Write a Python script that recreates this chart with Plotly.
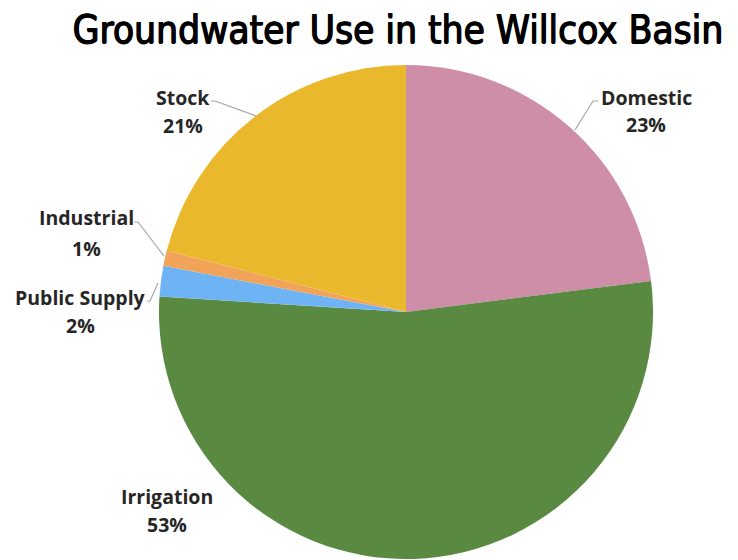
import plotly.graph_objects as go

categories = ["Domestic", "Irrigation", "Public Supply", "Industrial", "Stock"]
values = [23, 53, 2, 1, 21]
colors = ["#CE8EA8", "#5A8A42", "#6EB4F4", "#F2A35A", "#E9B82C"]

W, H = 738, 560

def px(x):
    return x / W

def py(y):
    return 1 - y / H

fig = go.Figure(go.Pie(
    labels=categories,
    values=values,
    sort=False,
    direction="clockwise",
    rotation=0,
    marker=dict(colors=colors, line=dict(width=0)),
    textinfo="none",
    hoverinfo="label+percent",
    showlegend=False,
    domain=dict(x=[px(159), px(653)], y=[py(559), py(65)]),
))

# label positions: (x center, y of name line, y of percent line) in pixels
label_pos = {
    "Domestic": (646, 97, 125),
    "Irrigation": (167, 496, 524),
    "Public Supply": (80, 297, 325),
    "Industrial": (86, 218, 248),
    "Stock": (183, 97, 126),
}
leaders = {
    "Domestic": [(598, 101), (593, 101), (575, 130)],
    "Stock": [(211, 101), (215, 101), (256, 116)],
    "Industrial": [(134, 222), (138, 222), (164, 256)],
    "Public Supply": [(147, 301), (150, 301), (158, 283)],
}

total = sum(values)
lab_font = dict(family="Open Sans", size=19.5, color="#262626")
annotations = []
for c, v in zip(categories, values):
    x, y1, y2 = label_pos[c]
    annotations.append(dict(
        x=px(x), y=py(y1), xref="paper", yref="paper",
        text=f"<b>{c}</b>", showarrow=False,
        font=lab_font, xanchor="center", yanchor="middle",
    ))
    annotations.append(dict(
        x=px(x), y=py(y2), xref="paper", yref="paper",
        text=f"<b>{round(100 * v / total)}%</b>", showarrow=False,
        font=lab_font, xanchor="center", yanchor="middle",
    ))

shapes = []
for c, pts in leaders.items():
    path = "M " + " L ".join(f"{px(a)},{py(b)}" for a, b in pts)
    shapes.append(dict(type="path", path=path, xref="paper", yref="paper",
                       line=dict(color="#A6A6A6", width=1.2)))

fig.update_layout(
    width=W, height=H,
    margin=dict(l=0, r=0, t=0, b=0),
    paper_bgcolor="white",
    plot_bgcolor="white",
    title=dict(text="Groundwater Use in the Willcox Basin",
               x=398 / W, xanchor="center", y=py(30), yanchor="middle",
               font=dict(family="DejaVu Sans Condensed", size=38.5, color="#000000",
                         shadow="0.6px 0px 0px #000, -0.6px 0px 0px #000, 0px 0.4px 0px #000")),
    annotations=annotations,
    shapes=shapes,
)

fig.write_html("out.html", config={"displayModeBar": False},
               post_script="document.body.style.margin='0px';")
